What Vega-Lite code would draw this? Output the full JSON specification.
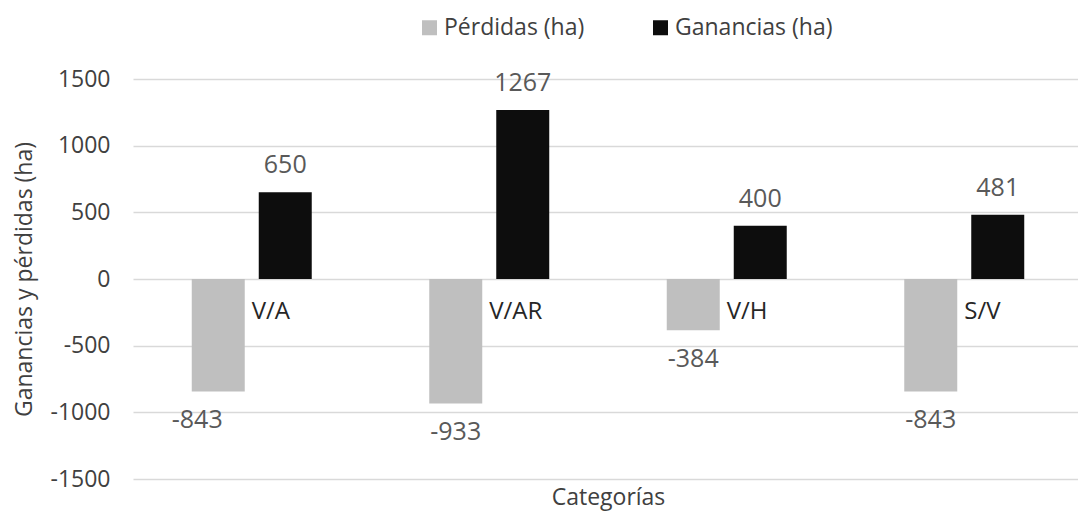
{
  "$schema": "https://vega.github.io/schema/vega-lite/v6.json",
  "autosize": "none",
  "width": 945,
  "height": 400,
  "padding": {"left": 133, "top": 79, "right": 0, "bottom": 35},
  "background": "white",
  "config": {
    "font": "Open Sans",
    "view": {"stroke": null},
    "axis": {"titleFontWeight": "normal"}
  },
  "data": {
    "values": [
      {"cat": "V/A", "serie": "Pérdidas (ha)", "valor": -843},
      {"cat": "V/A", "serie": "Ganancias (ha)", "valor": 650},
      {"cat": "V/AR", "serie": "Pérdidas (ha)", "valor": -933},
      {"cat": "V/AR", "serie": "Ganancias (ha)", "valor": 1267},
      {"cat": "V/H", "serie": "Pérdidas (ha)", "valor": -384},
      {"cat": "V/H", "serie": "Ganancias (ha)", "valor": 400},
      {"cat": "S/V", "serie": "Pérdidas (ha)", "valor": -843},
      {"cat": "S/V", "serie": "Ganancias (ha)", "valor": 481}
    ]
  },
  "encoding": {
    "x": {
      "field": "cat",
      "type": "nominal",
      "sort": ["V/A", "V/AR", "V/H", "S/V"],
      "scale": {"range": [0, 950], "paddingInner": 0, "paddingOuter": 0},
      "axis": {
        "labels": false, "ticks": false, "domain": false, "grid": false,
        "title": "Categorías", "titleFontSize": 23, "titleColor": "#404040",
        "titlePadding": 7
      }
    }
  },
  "layer": [
    {
      "mark": {"type": "bar"},
      "encoding": {
        "xOffset": {
          "field": "serie", "type": "nominal",
          "sort": ["Pérdidas (ha)", "Ganancias (ha)"],
          "scale": {"paddingInner": 0.209, "paddingOuter": 0.877}
        },
        "y": {
          "field": "valor",
          "type": "quantitative",
          "scale": {"domain": [-1500, 1500], "nice": false},
          "axis": {
            "values": [-1500, -1000, -500, 0, 500, 1000, 1500],
            "labelExpr": "'' + datum.value",
            "domain": false, "ticks": false, "grid": true,
            "gridColor": "#D9D9D9", "gridWidth": 1.3,
            "labelFontSize": 23, "labelColor": "#404040", "labelPadding": 23,
            "title": "Ganancias y pérdidas (ha)", "titleFontSize": 23,
            "titleColor": "#404040", "titleBaseline": "alphabetic", "titleX": -102
          }
        },
        "color": {
          "field": "serie",
          "type": "nominal",
          "sort": ["Pérdidas (ha)", "Ganancias (ha)"],
          "scale": {"domain": ["Pérdidas (ha)", "Ganancias (ha)"], "range": ["#BFBFBF", "#0D0D0D"]},
          "legend": {
            "title": null, "orient": "none", "direction": "horizontal",
            "legendX": 285, "legendY": -63,
            "symbolType": "square", "symbolSize": 225, "symbolStrokeWidth": 0,
            "labelFontSize": 23, "labelColor": "#404040", "labelOffset": 3,
            "columnPadding": 64
          }
        }
      }
    },
    {
      "transform": [{"filter": "datum.valor > 0"}],
      "mark": {"type": "text", "baseline": "alphabetic", "dy": -19, "fontSize": 25, "color": "#595959"},
      "encoding": {
        "xOffset": {
          "field": "serie", "type": "nominal",
          "sort": ["Pérdidas (ha)", "Ganancias (ha)"],
          "scale": {"paddingInner": 0.209, "paddingOuter": 0.877}
        },
        "y": {"field": "valor", "type": "quantitative"},
        "text": {"field": "valor", "type": "nominal"}
      }
    },
    {
      "transform": [{"filter": "datum.valor < 0 && datum.cat != 'V/A'"}],
      "mark": {"type": "text", "baseline": "alphabetic", "dy": 37, "fontSize": 25, "color": "#595959"},
      "encoding": {
        "xOffset": {
          "field": "serie", "type": "nominal",
          "sort": ["Pérdidas (ha)", "Ganancias (ha)"],
          "scale": {"paddingInner": 0.209, "paddingOuter": 0.877}
        },
        "y": {"field": "valor", "type": "quantitative"},
        "text": {"field": "valor", "type": "nominal"}
      }
    },
    {
      "transform": [{"filter": "datum.valor < 0 && datum.cat == 'V/A'"}],
      "mark": {"type": "text", "baseline": "alphabetic", "dy": 37, "dx": -21, "fontSize": 25, "color": "#595959"},
      "encoding": {
        "xOffset": {
          "field": "serie", "type": "nominal",
          "sort": ["Pérdidas (ha)", "Ganancias (ha)"],
          "scale": {"paddingInner": 0.209, "paddingOuter": 0.877}
        },
        "y": {"field": "valor", "type": "quantitative"},
        "text": {"field": "valor", "type": "nominal"}
      }
    },
    {
      "transform": [{"filter": "datum.valor < 0"}],
      "mark": {"type": "text", "baseline": "alphabetic", "align": "left", "dy": 40, "dx": 0, "fontSize": 24, "color": "#262626"},
      "encoding": {
        "y": {"datum": 0},
        "text": {"field": "cat", "type": "nominal"}
      }
    }
  ]
}
